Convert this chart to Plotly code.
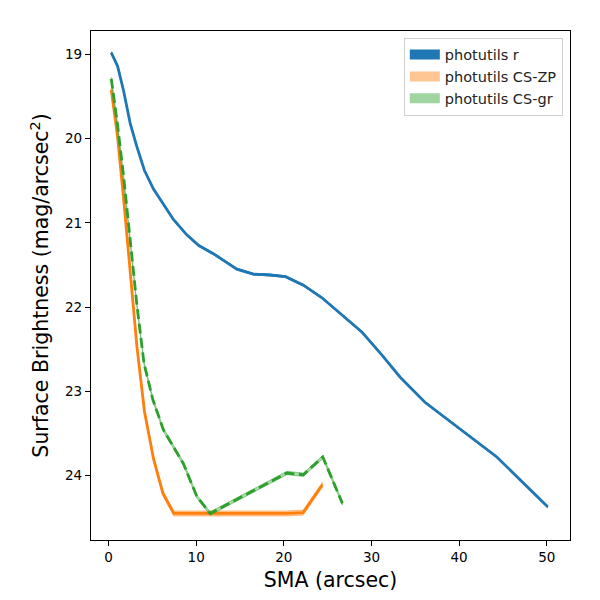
import plotly.graph_objects as go

# ---- data ----
sma_r = [0.31, 1.03, 1.71, 2.47, 3.24, 4.10, 5.13, 6.2, 7.4, 8.9, 10.3, 12.0, 14.64,
         16.53, 18.44, 20.2, 22.23, 24.35, 28.93, 31.2, 33.25, 36.1, 39.3, 44.3, 50.1]
sb_r = [18.98, 19.14, 19.43, 19.82, 20.10, 20.38, 20.60, 20.77, 20.96, 21.14, 21.27, 21.37, 21.55,
        21.61, 21.62, 21.64, 21.74, 21.89, 22.30, 22.57, 22.83, 23.13, 23.38, 23.78, 24.37]
err_r = [0.01, 0.01, 0.01, 0.01, 0.01, 0.01, 0.01, 0.01, 0.01, 0.01, 0.01, 0.01, 0.01,
         0.01, 0.01, 0.01, 0.01, 0.01, 0.01, 0.01, 0.01, 0.01, 0.01, 0.01, 0.01]

sma_zp = [0.31, 1.03, 1.71, 2.47, 3.24, 4.10, 5.13, 6.2, 7.45, 8.94, 10.3, 12.0, 14.64,
          16.5, 18.44, 20.3, 22.2, 24.4]
sb_zp = [19.42, 19.98, 20.70, 21.60, 22.47, 23.24, 23.80, 24.21, 24.45, 24.45, 24.45, 24.45, 24.45,
         24.45, 24.45, 24.45, 24.44, 24.11]
err_zp = [0.02, 0.02, 0.02, 0.02, 0.02, 0.02, 0.03, 0.03, 0.03, 0.03, 0.03, 0.03, 0.03,
          0.03, 0.03, 0.03, 0.03, 0.03]

sma_gr = [0.31, 1.03, 1.71, 2.47, 3.24, 4.05, 5.06, 6.27, 8.55, 10.08, 11.6, 20.34, 22.23, 24.45, 26.68]
sb_gr = [19.29, 19.84, 20.44, 21.21, 21.98, 22.67, 23.10, 23.46, 23.86, 24.25, 24.45, 23.97, 23.99, 23.78, 24.33]
err_gr = [0.02, 0.02, 0.02, 0.02, 0.02, 0.02, 0.02, 0.02, 0.02, 0.02, 0.02, 0.02, 0.02, 0.02, 0.02]

labels = ["photutils r", "photutils CS-ZP", "photutils CS-gr"]

series = [
    (sma_r, sb_r, err_r, "#1f77b4", "rgba(31,119,180,1)", "rgba(31,119,180,1)", "solid"),
    (sma_zp, sb_zp, err_zp, "#ff7f0e", "rgba(255,127,14,0.4)", "rgba(255,127,14,0.45)", "solid"),
    (sma_gr, sb_gr, err_gr, "#2ca02c", "rgba(44,160,44,0.4)", "rgba(44,160,44,0.45)", "10px,4.5px"),
]

fig = go.Figure()
for (x, y, e, col, fcol, ecol, dash), lab in zip(series, labels):
    upper = [a - b for a, b in zip(y, e)]
    lower = [a + b for a, b in zip(y, e)]
    fig.add_trace(go.Scatter(
        x=list(x) + list(x)[::-1], y=upper + lower[::-1],
        fill="toself", fillcolor=fcol, mode="lines",
        line=dict(color=ecol, width=1), showlegend=False, hoverinfo="skip"))
    fig.add_trace(go.Scatter(
        x=x, y=y, mode="lines", line=dict(color=col, width=2.8, dash=dash),
        showlegend=False))
    # legend patch entry (thick line acts as a filled patch)
    fig.add_trace(go.Scatter(
        x=[None], y=[None], mode="lines",
        line=dict(color=ecol, width=10), name=lab))

axis_common = dict(
    showline=True, linecolor="black", linewidth=1.2, mirror=True,
    ticks="outside", ticklen=5, tickwidth=1, tickcolor="black",
    showgrid=False, zeroline=False,
    tickfont=dict(family="DejaVu Sans", size=13.5, color="black"),
)

fig.update_layout(
    width=592, height=592,
    paper_bgcolor="white", plot_bgcolor="white",
    margin=dict(l=83, r=30, t=23, b=60),
    font=dict(family="DejaVu Sans", color="black"),
    xaxis=dict(range=[-2.0, 52.65], tickmode="array", tickvals=[0, 10, 20, 30, 40, 50],
               title=dict(text="SMA (arcsec)", font=dict(size=20.5), standoff=8),
               **axis_common),
    yaxis=dict(range=[24.765, 18.724], tickmode="array", tickvals=[19, 20, 21, 22, 23, 24],
               title=dict(text="Surface Brightness (mag/arcsec<sup>2</sup>)", font=dict(size=20.5), standoff=10),
               **axis_common),
    legend=dict(x=0.985, y=0.987, xanchor="right", yanchor="top",
                bgcolor="rgba(255,255,255,0.8)", bordercolor="#d0d0d0", borderwidth=1,
                font=dict(family="DejaVu Sans", size=14.5, color="#222"),
                tracegroupgap=0),
    showlegend=True,
)

fig.write_html("out.html")
